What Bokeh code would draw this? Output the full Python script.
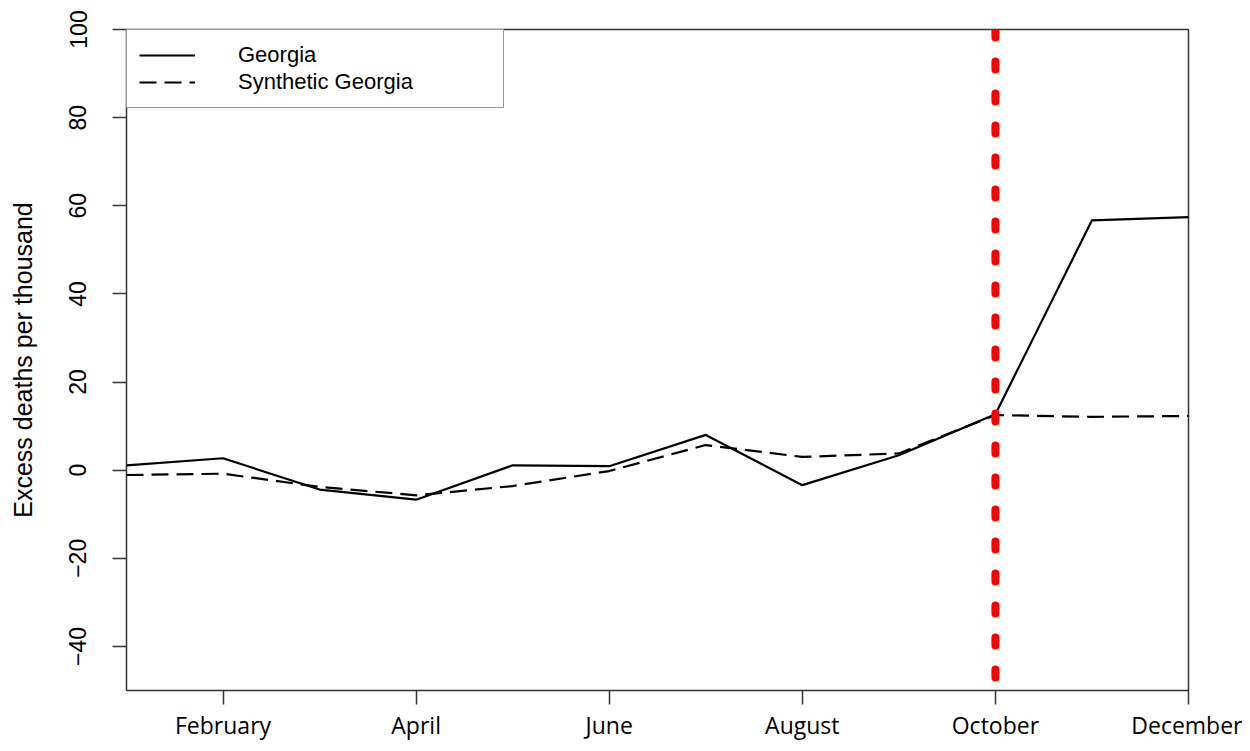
import numpy as np
from bokeh.plotting import figure
from bokeh.models import Range1d, FixedTicker, Span, Legend, LegendItem
from bokeh.embed import file_html
from bokeh.resources import INLINE

# ---- data ----
months = [1, 2, 3, 4, 5, 6, 7, 8, 9, 10, 11, 12]
month_names = ["January", "February", "March", "April", "May", "June",
               "July", "August", "September", "October", "November", "December"]
tick_months = [2, 4, 6, 8, 10, 12]
georgia = [1.1, 2.7, -4.4, -6.7, 1.1, 0.9, 8.0, -3.4, 3.4, 12.7, 56.7, 57.4]
synthetic_georgia = [-1.1, -0.8, -3.8, -5.7, -3.6, -0.2, 5.7, 3.0, 3.8, 12.5, 12.1, 12.3]
intervention_month = 10
y_ticks = [-40, -20, 0, 20, 40, 60, 80, 100]
y_label = "Excess deaths per thousand"
series_labels = ["Georgia", "Synthetic Georgia"]

p = figure(width=1242, height=743,
           x_range=Range1d(1, 12), y_range=Range1d(-50, 100),
           output_backend="svg", toolbar_location=None,
           min_border_left=126, min_border_right=54,
           min_border_top=29, min_border_bottom=53)
p.grid.visible = False
p.outline_line_color = "#333333"
p.outline_line_width = 1.5
p.background_fill_color = "white"
p.border_fill_color = "white"

r1 = p.line(months, georgia, line_color="black", line_width=2.2, line_join="round")
r2 = p.line(months, synthetic_georgia, line_color="black", line_width=2.2,
            line_dash="17 8", line_join="round")

span = Span(location=intervention_month, dimension="height", line_color="red",
            line_width=8, line_dash="8 24", line_cap="round")
p.add_layout(span)

# axes
for ax in (p.xaxis[0], p.yaxis[0]):
    ax.axis_line_color = None
    ax.major_tick_out = 14
    ax.major_tick_in = 0
    ax.minor_tick_line_color = None
    ax.major_tick_line_color = "#333333"
    ax.major_tick_line_width = 1.5
    ax.major_label_text_color = "black"

p.xaxis.ticker = FixedTicker(ticks=tick_months)
p.xaxis.major_label_overrides = {m: month_names[m - 1] for m in tick_months}
p.xaxis.major_label_text_font = "Open Sans"
p.xaxis.major_label_text_font_size = "23px"
p.xaxis.major_label_standoff = 4

p.yaxis.ticker = FixedTicker(ticks=y_ticks)
p.yaxis.major_label_orientation = "vertical"
p.yaxis.major_label_text_font = "Liberation Sans"
p.yaxis.major_label_text_font_size = "23px"
p.yaxis.major_label_standoff = 26
p.yaxis.axis_label = y_label
p.yaxis.axis_label_text_font = "Liberation Sans"
p.yaxis.axis_label_text_font_size = "25px"
p.yaxis.axis_label_text_font_style = "normal"
p.yaxis.axis_label_text_color = "black"
p.yaxis.axis_label_standoff = 30

legend = Legend(items=[LegendItem(label=series_labels[0], renderers=[r1]),
                       LegendItem(label=series_labels[1], renderers=[r2])],
                location="top_left", margin=0, padding=12, spacing=1,
                glyph_width=56, glyph_height=22, label_height=22,
                label_standoff=43, label_width=253,
                label_text_font="Liberation Sans", label_text_font_size="22px",
                label_text_color="black",
                border_line_color="#333333", border_line_width=1.5,
                background_fill_color="white", background_fill_alpha=1)
p.add_layout(legend)

open("out.html", "w").write(file_html(p, INLINE))
